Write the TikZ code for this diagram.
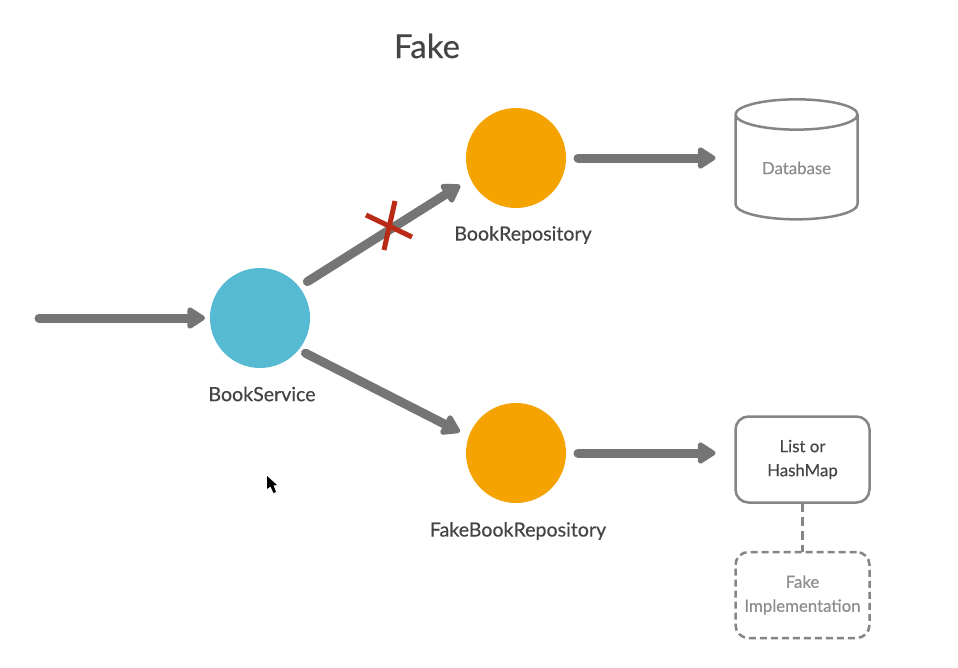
\documentclass[tikz,border=0pt]{standalone}
\usepackage{fontspec}
\setmainfont{Lato}
\newfontfamily\heavyfont{Lato}[FakeBold=0.35]
\usepackage{tikz}
\usetikzlibrary{arrows.meta,shapes.geometric}
\definecolor{arrowgray}{HTML}{757575}
\definecolor{linegray}{HTML}{858585}
\definecolor{labelgray}{HTML}{444444}
\definecolor{softgray}{HTML}{8C8C8C}
\definecolor{repoorange}{HTML}{F5A300}
\definecolor{serviceblue}{HTML}{56BAD3}
\definecolor{crossred}{HTML}{B92A17}
\tikzset{
  flow/.style={draw=arrowgray,line width=9pt,line cap=round,-{Triangle[round,length=20pt,width=24pt]}},
  actor/.style={circle,minimum size=100pt,inner sep=0pt,outer sep=0pt},
  caption/.style={text=labelgray,font=\heavyfont\fontsize{19.6}{24}\selectfont},
  storebox/.style={draw=linegray,line width=2.5pt,rounded corners=13pt,minimum width=134pt,minimum height=86pt,align=center,font=\heavyfont\fontsize{16.8}{24}\selectfont,outer sep=0pt},
}
\begin{document}
\begin{tikzpicture}[x=1pt,y=-1pt]
\useasboundingbox (0,0) rectangle (958,667);
\fill[white] (0,0) rectangle (958,667);
\node[text=labelgray,font=\heavyfont\fontsize{33}{38}\selectfont] (title) at (427,46) {Fake};
\coordinate (entry) at (39,318);
\node[actor,fill=serviceblue] (service) at (260,318) {};
\node[actor,fill=repoorange] (repo) at (516,158) {};
\node[actor,fill=repoorange] (fakerepo) at (516,453) {};
\node[caption] (servicelabel) at (262,394) {BookService};
\node[caption] (repolabel) at (523,235) {BookRepository};
\node[caption] (fakelabel) at (518,531) {FakeBookRepository};
\node[cylinder,shape border rotate=90,aspect=0.4,draw=linegray,line width=2.5pt,minimum width=122pt,minimum height=120pt,outer sep=0pt,font=\heavyfont\fontsize{16.8}{20}\selectfont] (db) at (796.5,170) {\phantom{Database}};
\node[text=softgray,font=\heavyfont\fontsize{16.8}{20}\selectfont] (dblabel) at (796.5,168) {Database};
\node[storebox,text=labelgray] (map) at (802.5,459.5) {\raisebox{-1pt}{List or}\\\raisebox{-1pt}{HashMap}};
\node[storebox,dashed,dash pattern=on 7pt off 4pt,text=softgray] (impl) at (802.5,595) {\raisebox{-2pt}{Fake}\\\raisebox{-2pt}{Implementation}};
\draw[flow] (entry) -- ([xshift=-5pt]service.west);
\draw[flow,shorten <=56pt,shorten >=66pt] ([yshift=6.5pt]service.center) -- ([yshift=8pt]repo.center);
\draw[flow,shorten <=51pt,shorten >=63pt] ([yshift=-12pt]service.center) -- ([yshift=-7.5pt]fakerepo.center);
\draw[flow,shorten <=12pt,shorten >=20pt] (repo) -- (repo -| db.west);
\draw[flow,shorten <=12pt,shorten >=20pt] (fakerepo) -- (fakerepo -| map.west);
\draw[draw=linegray,line width=3pt,dashed,dash pattern=on 9pt off 5pt] (map) -- (impl);
% cross over the blocked call
\coordinate (crossa) at (366,215);
\coordinate (crossb) at (412,237);
\coordinate (crossc) at (395,201);
\coordinate (crossd) at (384,250);
\draw[crossred,line width=5pt] (crossa) -- (crossb);
\draw[crossred,line width=5pt] (crossc) -- (crossd);
% mouse pointer
\fill[black] (267,476) -- (267,489) -- (270.5,486.5) -- (273.5,493) -- (276,492) -- (273.5,485.5) -- (277,485) -- cycle;
\end{tikzpicture}
\end{document}
